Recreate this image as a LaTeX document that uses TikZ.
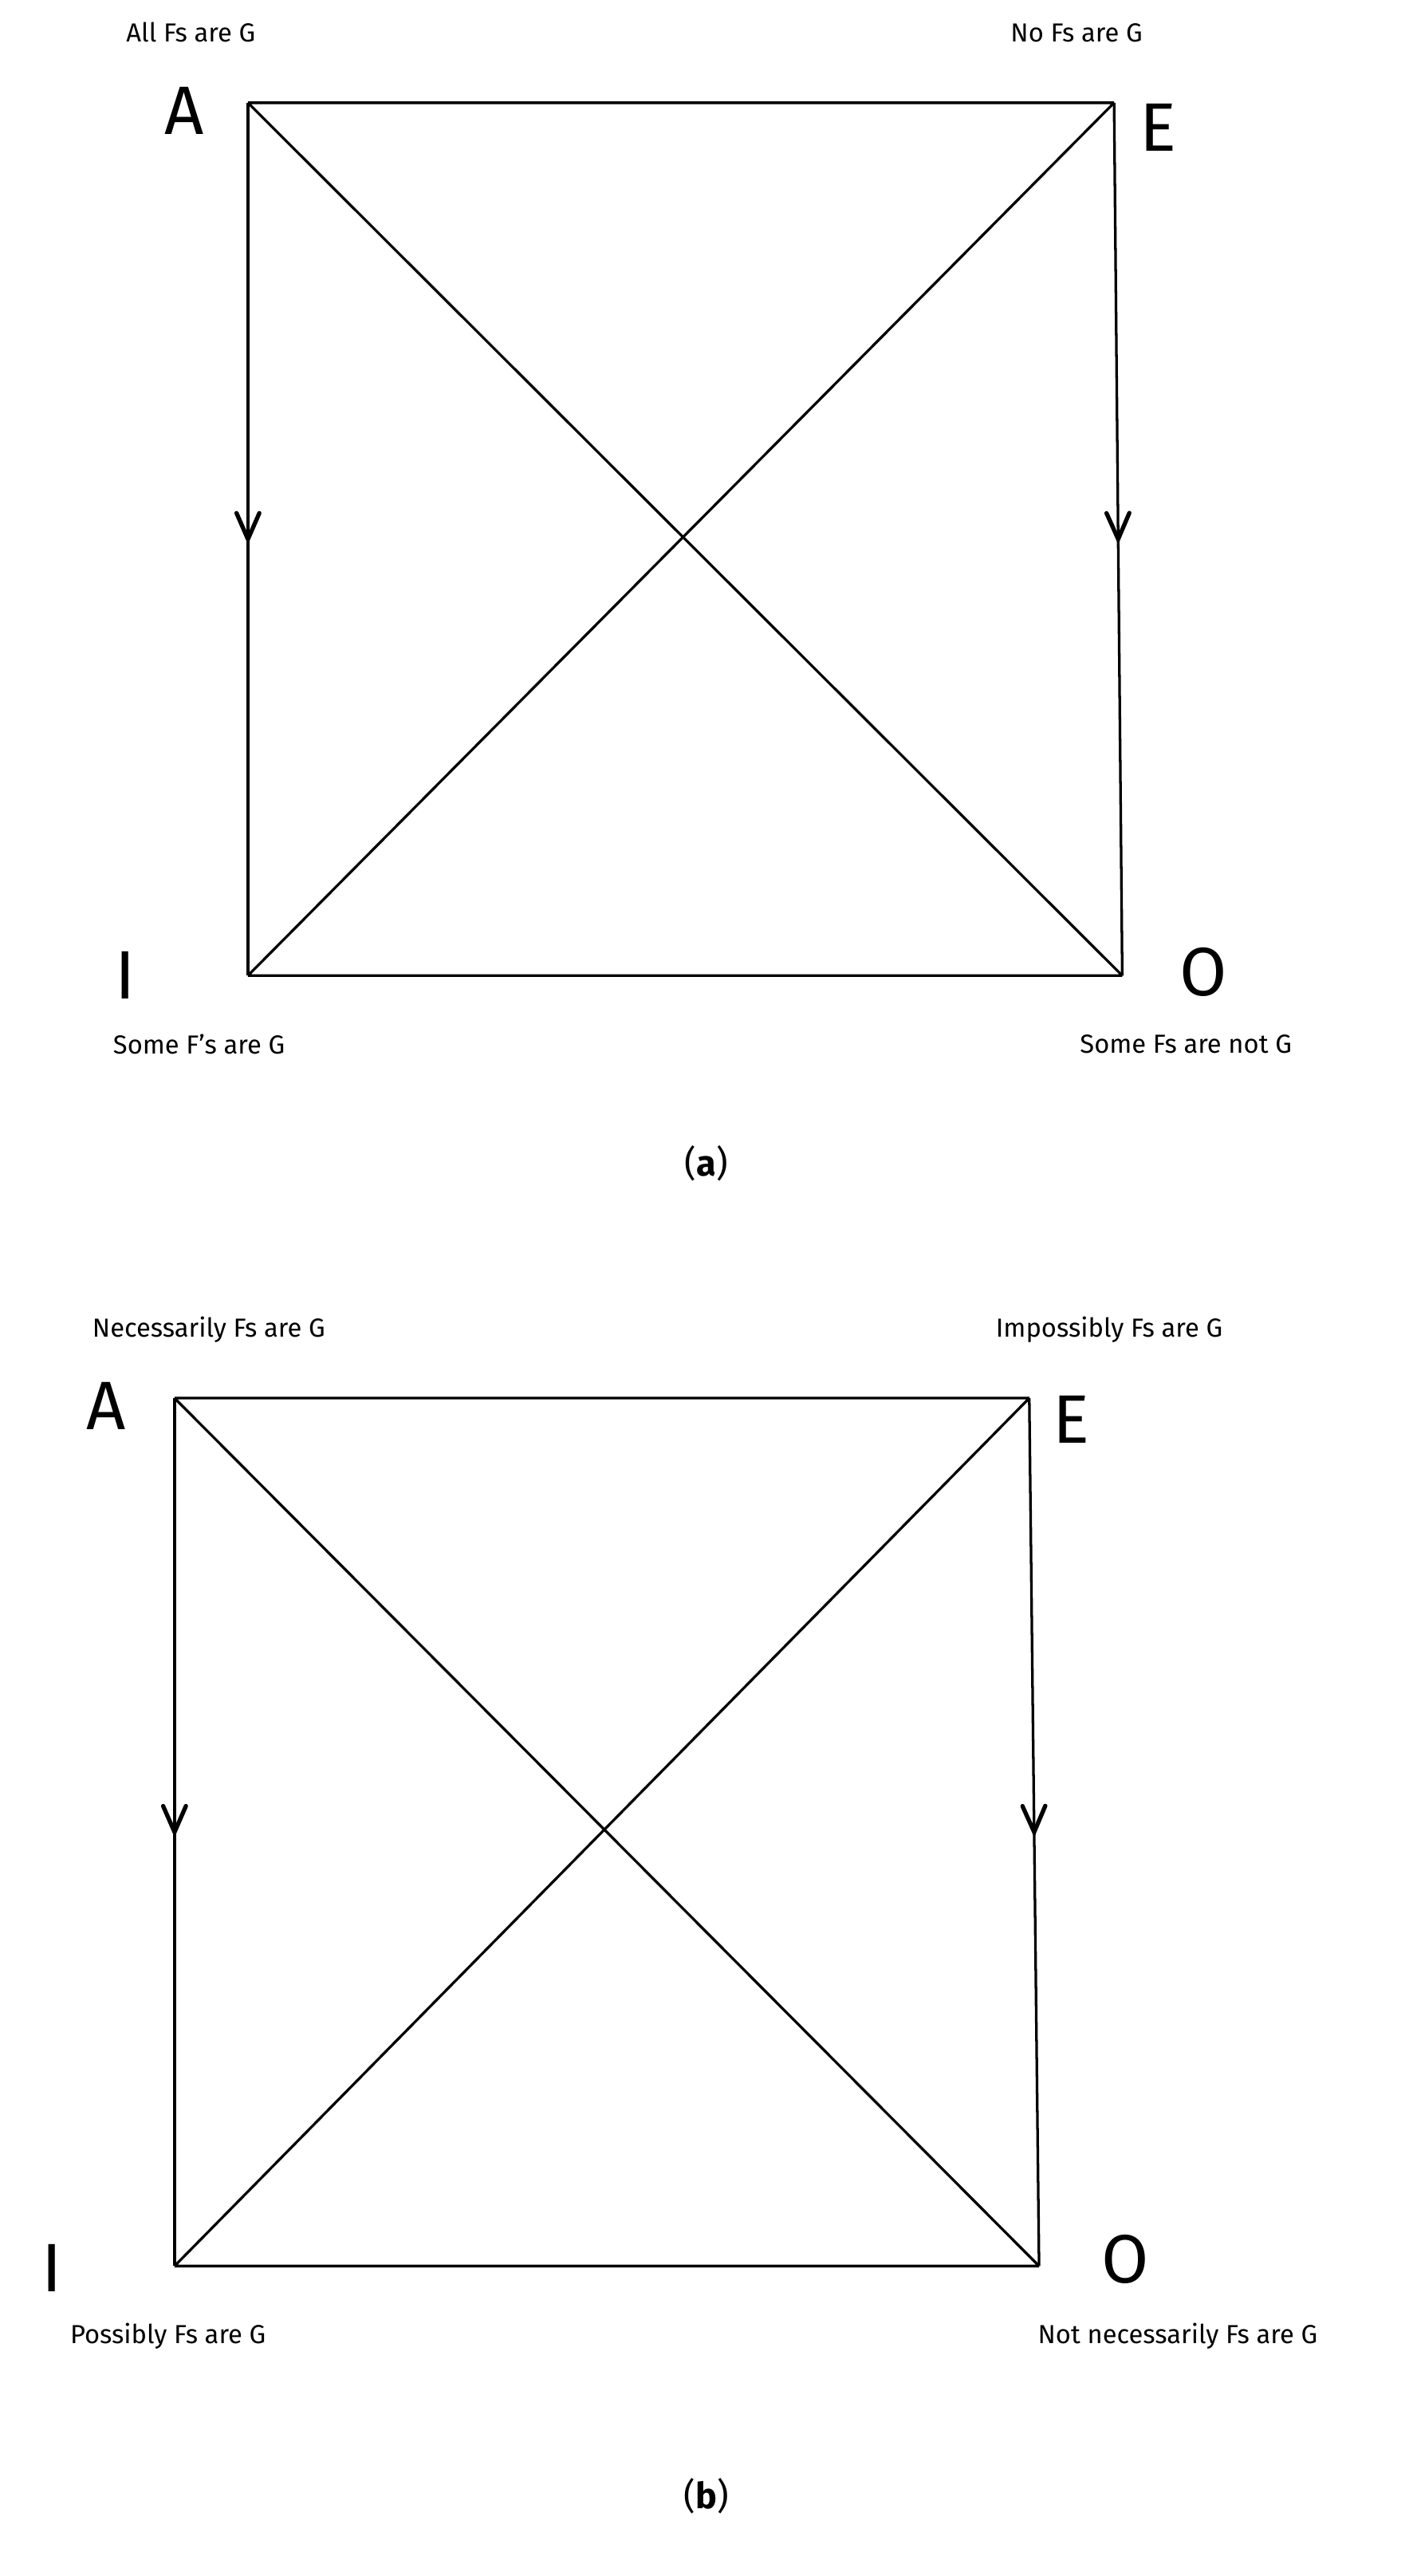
\documentclass[tikz,border=0pt]{standalone}
\usepackage{fontspec}
\setmainfont{Fira Sans}
\usetikzlibrary{decorations.markings}
\begin{document}
\begin{tikzpicture}[x=1pt,y=-1pt,
  edge/.style={line width=1.6pt,black},
  chev/.style={postaction={decorate},decoration={markings,mark=at position 0.5 with {\draw[line width=2.6pt,line cap=round] (-16pt,-7pt) -- (0,0) -- (-16pt,7pt);}}},
  lbl/.style={font=\fontsize{16}{18}\selectfont},
  big/.style={font=\fontsize{42}{42}\selectfont},
  capt/.style={font=\fontsize{22}{24}\selectfont\rmfamily}]
\useasboundingbox (0,0) rectangle (866,1579);
% panel a
\coordinate (aA) at (152,63); \coordinate (aE) at (683,63);
\coordinate (aI) at (152,598); \coordinate (aO) at (688,598);
\draw[edge] (aA)--(aE) (aI)--(aO) (aA)--(aO) (aI)--(aE);
\draw[edge,chev] (aA)--(aI);
\draw[edge,chev] (aE)--(aO);
\node[lbl] (ta) at (117,20) {All Fs are G};
\node[lbl] (te) at (660,20) {No Fs are G};
\node[lbl] (ti) at (122,640) {Some F's are G};
\node[lbl] (to) at (727,640) {Some Fs are not G};
\node[big] (la) at (113,68) {A};
\node[big] (le) at (710,78) {E};
\node[big] (li) at (77,598) {I};
\node[big] (lo) at (738,596) {O};
\node[capt] (capa) at (433,713) {(\textbf{a})};
% panel b
\coordinate (bA) at (107,857); \coordinate (bE) at (631,857);
\coordinate (bI) at (107,1389); \coordinate (bO) at (637,1389);
\draw[edge] (bA)--(bE) (bI)--(bO) (bA)--(bO) (bI)--(bE);
\draw[edge,chev] (bA)--(bI);
\draw[edge,chev] (bE)--(bO);
\node[lbl] (tba) at (128,815) {Necessarily Fs are G};
\node[lbl] (tbe) at (680,815) {Impossibly Fs are G};
\node[lbl] (tbi) at (103,1432) {Possibly Fs are G};
\node[lbl] (tbo) at (722,1432) {Not necessarily Fs are G};
\node[big] (lba) at (65,862) {A};
\node[big] (lbe) at (657,870) {E};
\node[big] (lbi) at (32,1390) {I};
\node[big] (lbo) at (690,1385) {O};
\node[capt] (capb) at (433,1530) {(\textbf{b})};
\end{tikzpicture}
\end{document}
